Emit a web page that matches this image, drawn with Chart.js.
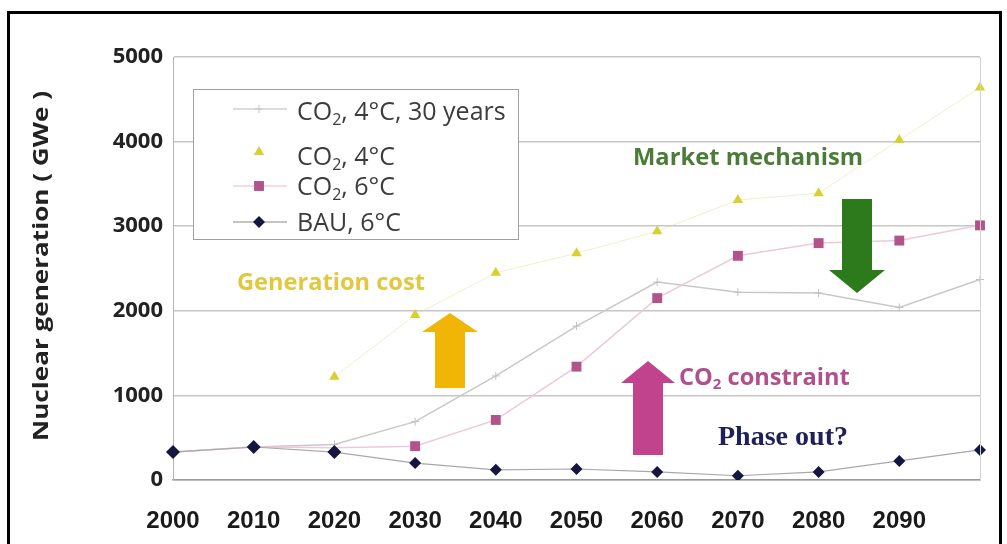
<!DOCTYPE html>
<html>
<head>
<meta charset="utf-8">
<script src="https://cdn.jsdelivr.net/npm/chart.js@4.4.0/dist/chart.umd.min.js"></script>
<style>
  html, body { margin: 0; padding: 0; background: #fff; }
  #wrap { position: relative; width: 1007px; height: 544px; }
  #frame { position: absolute; left: 7px; top: 11px; width: 995px; height: 540px; border: 3px solid #000; border-bottom: none; box-sizing: border-box; pointer-events: none; }
</style>
</head>
<body>
<div id="wrap">
  <canvas id="chart" width="1007" height="544"></canvas>
  <div id="frame"></div>
</div>
<script>
// data (GWe)
const years = ['2000', '2010', '2020', '2030', '2040', '2050', '2060', '2070', '2080', '2090', '2100'];
const co2_4c_30y = [330, 390, 420, 690, 1230, 1820, 2340, 2220, 2210, 2040, 2370];
const co2_4c = [null, null, 1220, 1950, 2450, 2680, 2940, 3310, 3390, 4020, 4640];
const co2_6c = [330, 390, 380, 400, 710, 1340, 2150, 2650, 2800, 2830, 3010];
const bau_6c = [330, 390, 330, 200, 120, 130, 95, 50, 95, 225, 355];
const yTicks = [0, 1000, 2000, 3000, 4000, 5000];

const seriesNames = ['CO₂, 4°C, 30 years', 'CO₂, 4°C', 'CO₂, 6°C', 'BAU, 6°C'];

Chart.defaults.font.family = 'Open Sans';

function marker(ctx, style, x, y, r, color) {
  ctx.fillStyle = color;
  ctx.strokeStyle = color;
  ctx.beginPath();
  if (style === 'triangle') {
    ctx.moveTo(x, y - r);
    ctx.lineTo(x + r * 0.866, y + r * 0.5);
    ctx.lineTo(x - r * 0.866, y + r * 0.5);
    ctx.closePath();
    ctx.fill();
  } else if (style === 'rect') {
    const s = r * Math.SQRT1_2;
    ctx.rect(x - s, y - s, 2 * s, 2 * s);
    ctx.fill();
  } else if (style === 'rectRot') {
    ctx.moveTo(x, y - r);
    ctx.lineTo(x + r, y);
    ctx.lineTo(x, y + r);
    ctx.lineTo(x - r, y);
    ctx.closePath();
    ctx.fill();
  } else {
    ctx.lineWidth = 1;
    ctx.moveTo(x - r, y); ctx.lineTo(x + r, y);
    ctx.moveTo(x, y - r); ctx.lineTo(x, y + r);
    ctx.stroke();
  }
}

// "CO" + subscript 2 + rest
function drawLabel(ctx, text, x, y, size, weight, family, color) {
  ctx.fillStyle = color;
  ctx.textBaseline = 'middle';
  ctx.textAlign = 'left';
  const parts = text.split('₂');
  ctx.font = `${weight} ${size}px ${family}`;
  if (parts.length === 1) { ctx.fillText(text, x, y); return; }
  ctx.fillText(parts[0], x, y);
  let cx = x + ctx.measureText(parts[0]).width;
  ctx.font = `${weight} ${Math.round(size * 0.62)}px ${family}`;
  ctx.fillText('2', cx, y + size * 0.28);
  cx += ctx.measureText('2').width;
  ctx.font = `${weight} ${size}px ${family}`;
  ctx.fillText(parts[1], cx, y);
}

function fitSize(ctx, text, weight, family, width) {
  ctx.font = `${weight} 100px ${family}`;
  return 100 * width / ctx.measureText(text).width;
}

function arrow(ctx, cx, tip, base, end, sh, hh, color) {
  ctx.fillStyle = color;
  ctx.beginPath();
  ctx.moveTo(cx - sh, end);
  ctx.lineTo(cx - sh, base);
  ctx.lineTo(cx - hh, base);
  ctx.lineTo(cx, tip);
  ctx.lineTo(cx + hh, base);
  ctx.lineTo(cx + sh, base);
  ctx.lineTo(cx + sh, end);
  ctx.closePath();
  ctx.fill();
}

const extras = {
  id: 'extras',
  beforeDraw(chart) {
    const ctx = chart.ctx;
    ctx.save();
    ctx.fillStyle = '#fff';
    ctx.fillRect(0, 0, chart.width, chart.height);
    ctx.restore();
  },
  afterDraw(chart) {
    const ctx = chart.ctx;
    const a = chart.chartArea;
    ctx.save();

    // right edge of plot
    ctx.strokeStyle = '#d4d4d4';
    ctx.lineWidth = 1;
    ctx.beginPath();
    ctx.moveTo(a.right + 0.5, a.top);
    ctx.lineTo(a.right + 0.5, a.bottom);
    ctx.stroke();

    // legend box
    ctx.fillStyle = '#fff';
    ctx.fillRect(193, 89, 325, 150);
    ctx.strokeStyle = '#a0a0a0';
    ctx.strokeRect(193.5, 89.5, 325, 150);

    const styles = [
      { style: 'cross', color: '#c4c4c4', line: '#d0d0d0', y: 109, ty: 113, r: 4 },
      { style: 'triangle', color: '#d8cf30', line: null, y: 152, ty: 158, r: 6 },
      { style: 'rect', color: '#b0548a', line: '#f0d2e2', y: 186, ty: 188, r: 7 },
      { style: 'rectRot', color: '#15153f', line: '#b0b0b0', y: 222, ty: 224, r: 6 }
    ];
    styles.forEach((s, i) => {
      if (s.line) {
        ctx.strokeStyle = s.line;
        ctx.lineWidth = 1.5;
        ctx.beginPath();
        ctx.moveTo(233, s.y);
        ctx.lineTo(287, s.y);
        ctx.stroke();
      }
      marker(ctx, s.style, 259, s.y, s.r, s.color);
      drawLabel(ctx, seriesNames[i], 297, s.ty, 25, 'normal', 'Open Sans', '#3c3c3c');
    });

    // arrows
    arrow(ctx, 857, 293, 270, 199, 15, 28, '#2d7a1c');
    arrow(ctx, 450, 313, 332, 388, 15, 28, '#f1b506');
    arrow(ctx, 648, 361, 383, 455, 15, 27, '#c2438d');

    // annotation texts
    let s = fitSize(ctx, 'Market mechanism', 'bold', 'Open Sans', 230);
    drawLabel(ctx, 'Market mechanism', 633, 158, s, 'bold', 'Open Sans', '#4a7c38');
    s = fitSize(ctx, 'Generation cost', 'bold', 'Open Sans', 188);
    drawLabel(ctx, 'Generation cost', 237, 283, s, 'bold', 'Open Sans', '#e0c840');
    drawLabel(ctx, 'CO₂ constraint', 679, 378, s, 'bold', 'Open Sans', '#b0508c');
    s = fitSize(ctx, 'Phase out?', 'bold', 'Liberation Serif', 130);
    drawLabel(ctx, 'Phase out?', 718, 438, s, 'bold', 'Liberation Serif', '#1f1f5a');

    // y axis title
    const title = 'Nuclear generation ( GWe )';
    ctx.translate(42, 266);
    ctx.rotate(-Math.PI / 2);
    ctx.font = 'bold 21px Open Sans';
    const w = ctx.measureText(title).width;
    ctx.scale(350 / w, 1);
    ctx.fillStyle = '#222';
    ctx.textAlign = 'center';
    ctx.textBaseline = 'middle';
    ctx.fillText(title, 0, 0);
    ctx.restore();
  }
};

new Chart(document.getElementById('chart'), {
  type: 'line',
  data: {
    labels: years,
    datasets: [
      {
        label: seriesNames[0], data: co2_4c_30y, order: 3,
        borderColor: '#c8c8c8', borderWidth: 1.5,
        pointStyle: 'cross', pointRadius: 4, pointBorderColor: '#c0c0c0', pointBorderWidth: 1
      },
      {
        label: seriesNames[1], data: co2_4c, order: 2,
        borderColor: 'rgba(225, 220, 140, 0.45)', borderWidth: 1,
        pointStyle: 'triangle', pointRadius: 6, pointBackgroundColor: '#d8cf30', pointBorderColor: '#d8cf30', pointBorderWidth: 0
      },
      {
        label: seriesNames[2], data: co2_6c, order: 1,
        borderColor: '#eec8dc', borderWidth: 1.5,
        pointStyle: 'rect', pointRadius: c => c.dataIndex < 3 ? 0 : 7,
        pointBackgroundColor: '#b0548a', pointBorderColor: '#b0548a', pointBorderWidth: 0
      },
      {
        label: seriesNames[3], data: bau_6c, order: 0,
        borderColor: '#a8a8a8', borderWidth: 1.2,
        pointStyle: 'rectRot', pointRadius: c => c.dataIndex < 3 ? 7 : 6,
        pointBackgroundColor: '#15153f', pointBorderColor: '#15153f', pointBorderWidth: 0
      }
    ]
  },
  options: {
    responsive: false,
    animation: false,
    layout: { padding: { top: 57, right: 27, left: 0, bottom: 0 } },
    plugins: { legend: { display: false }, tooltip: { enabled: false } },
    scales: {
      x: {
        offset: false,
        grid: { display: false },
        border: { color: '#9a9a9a', width: 1.5 },
        ticks: {
          autoSkip: false, maxRotation: 0, padding: 19,
          color: '#1a1a1a',
          font: { family: 'Liberation Sans', weight: 'bold', size: 24 },
          callback: (v, i) => i === years.length - 1 ? '' : years[i]
        },
        afterFit: sc => { sc.height = 64; }
      },
      y: {
        min: yTicks[0], max: yTicks[yTicks.length - 1],
        afterBuildTicks: sc => { sc.ticks = yTicks.map(v => ({ value: v })); },
        grid: { color: '#c6c6c6', lineWidth: 1.5, drawTicks: false },
        border: { color: '#b4b4b4', width: 1 },
        ticks: {
          padding: 10, color: '#222',
          font: { family: 'Open Sans', weight: 'bold', size: 22 },
          callback: v => String(v)
        },
        afterFit: sc => { sc.width = 173; }
      }
    }
  },
  plugins: [extras]
});
</script>
</body>
</html>
